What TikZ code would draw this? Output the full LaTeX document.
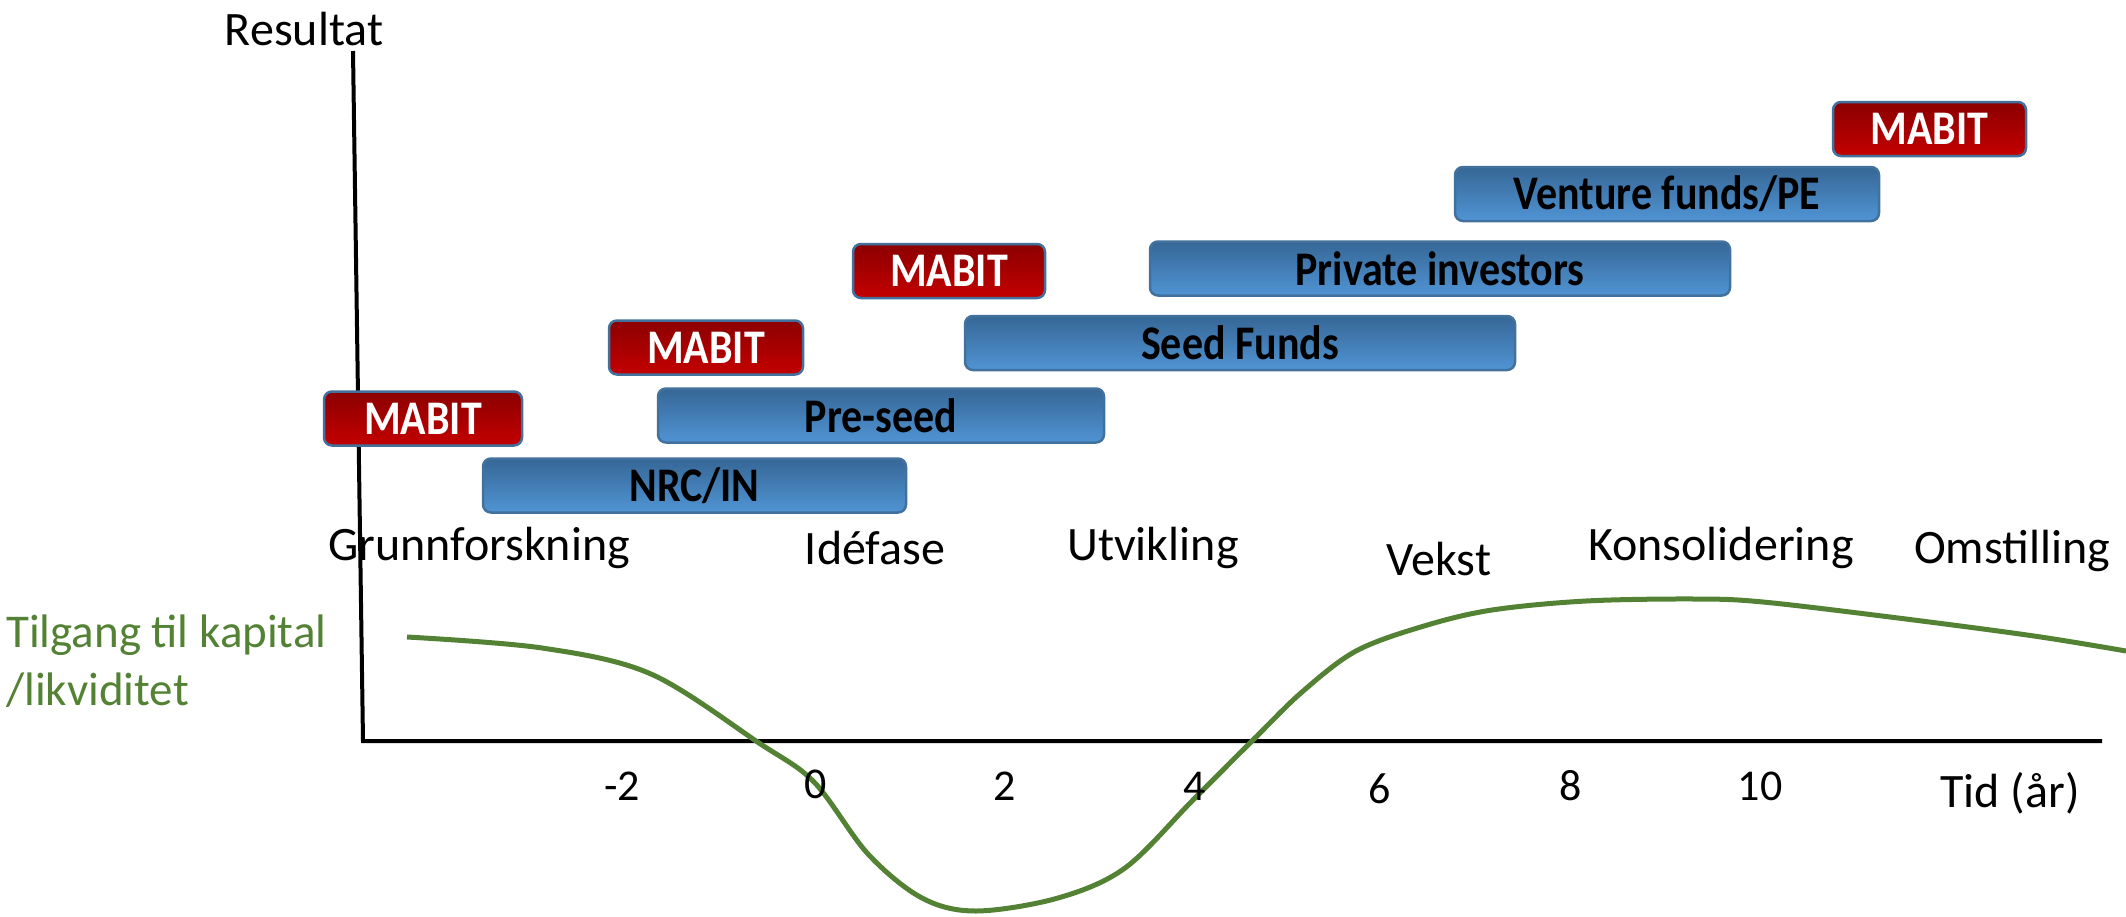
\documentclass[tikz,border=0pt]{standalone}
\usepackage{fontspec}
\setmainfont{Carlito}
\newcommand{\tallbox}[1]{\scalebox{1}[1.15]{#1}}
\begin{document}
\begin{tikzpicture}[x=1pt,y=-1pt,
  bluebox/.style={draw=boxedge, line width=2.5pt, rounded corners=8pt, top color=bluetop, bottom color=bluebot, minimum height=54pt, inner sep=0pt, font=\fontsize{42}{50}\selectfont\bfseries, text=black},
  redbox/.style={draw=boxedge, line width=2.5pt, rounded corners=8pt, top color=redtop, bottom color=redbot, minimum height=54pt, inner sep=0pt, font=\fontsize{42}{50}\selectfont\bfseries, text=white},
  phase/.style={font=\fontsize{48}{58}\selectfont, text=black, inner sep=0pt},
  tick/.style={font=\fontsize{44}{52}\selectfont, text=black, inner sep=0pt},
  axis/.style={line width=4pt, black},
  curve/.style={line width=5pt, kapgreen}
]
\definecolor{boxedge}{RGB}{65,113,156}
\definecolor{bluetop}{RGB}{54,103,150}
\definecolor{bluebot}{RGB}{80,148,212}
\definecolor{redtop}{RGB}{139,0,0}
\definecolor{redbot}{RGB}{196,0,0}
\definecolor{kapgreen}{RGB}{84,130,53}
\useasboundingbox (0,0) rectangle (2126,916);

% axes
\coordinate (ytop) at (353,51);
\coordinate (origin) at (363,741);
\coordinate (xend) at (2102,741);
\draw[axis] (ytop) -- (origin) -- (xend);

\node[phase] (resultat) at (304,29) {Resultat};

% curve
\draw[curve] plot[smooth, tension=0.55] coordinates {
 (407,637) (542,648) (651,674) (759,743) (814,782) (868,854) (922,898) (976,911)
 (1058,898) (1125,868) (1193,800) (1254,739) (1302,692) (1356,651) (1424,626)
 (1492,610) (1586,601) (1695,599) (1763,602) (1898,618) (2034,636) (2126,651)};

% boxes
\node[redbox, minimum width=198pt] (mabit1) at (423,418.5) {\tallbox{MABIT}};
\node[bluebox, minimum width=423pt] (nrc) at (694.5,485.5) {\tallbox{NRC/IN}};
\node[bluebox, minimum width=446pt] (preseed) at (881,415.5) {\tallbox{Pre-seed}};
\node[redbox, minimum width=194pt] (mabit2) at (706,347.5) {\tallbox{MABIT}};
\node[bluebox, minimum width=550pt] (seed) at (1240,343) {\tallbox{Seed Funds}};
\node[redbox, minimum width=192pt] (mabit3) at (949,271) {\tallbox{MABIT}};
\node[bluebox, minimum width=580pt] (private) at (1440,268.5) {\tallbox{Private investors}};
\node[bluebox, minimum width=424pt] (venture) at (1667,194) {\tallbox{Venture funds/PE}};
\node[redbox, minimum width=193pt] (mabit4) at (1929.5,129) {\tallbox{MABIT}};

% phases
\node[phase] (grunn) at (479,548) {Grunnforskning};
\node[phase] (ide) at (875,548) {Idéfase};
\node[phase] (utv) at (1153,548) {Utvikling};
\node[phase] (vekst) at (1439,559) {Vekst};
\node[phase] (kons) at (1721,548) {Konsolidering};
\node[phase] (omst) at (2012,551) {Omstilling};

% ticks
\node[tick] (tm2) at (622,786) {-2};
\node[tick] (t0) at (816,784) {0};
\node[tick] (t2) at (1005,786) {2};
\node[tick] (t4) at (1195,786) {4};
\node[tick] (t6) at (1380,789) {6};
\node[tick] (t8) at (1571,786) {8};
\node[tick] (t10) at (1760,786) {10};
\node[tick, font=\fontsize{48}{56}\selectfont] (tid) at (2010,793) {Tid (år)};

% green label
\node[font=\fontsize{47}{58}\selectfont, text=kapgreen, align=left, anchor=north west, inner sep=0pt] (kapital) at (6,615) {Tilgang til kapital\\/likviditet};
\end{tikzpicture}
\end{document}
